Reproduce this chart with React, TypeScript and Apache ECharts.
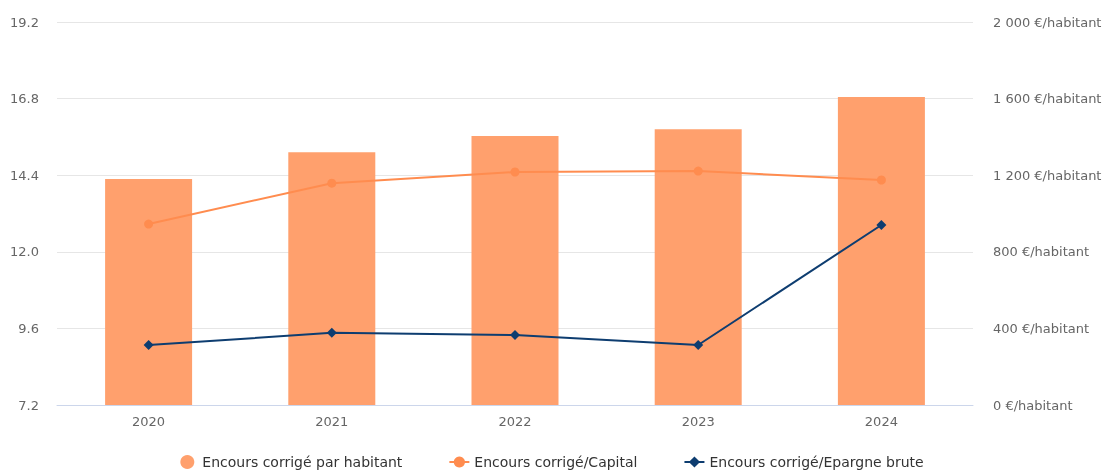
import React, { useEffect, useRef } from "react";
import * as echarts from "echarts";

const years = ["2020", "2021", "2022", "2023", "2024"];
const encoursParHabitant = [1180, 1320, 1405, 1440, 1608];
const encoursCapital = [12.87, 14.15, 14.5, 14.53, 14.25];
const encoursEpargne = [9.08, 9.46, 9.39, 9.08, 12.84];

const seriesNames = [
  "Encours corrigé par habitant",
  "Encours corrigé/Capital",
  "Encours corrigé/Epargne brute",
];

const fmtEuro = (v: number) =>
  String(v).replace(/\B(?=(\d{3})+(?!\d))/g, " ") + " €/habitant";

export default function App() {
  const ref = useRef<HTMLDivElement>(null);
  useEffect(() => {
    if (!ref.current) return;
    const chart = echarts.init(ref.current, null, { renderer: "svg" });
    const font = "DejaVu Sans";
    chart.setOption({
      animation: false,
      textStyle: { fontFamily: font },
      grid: {
        left: 57,
        right: 131,
        top: 22,
        bottom: 65,
        outerBoundsMode: "none",
      },
      legend: {
        bottom: 1,
        left: "center",
        padding: 0,
        itemGap: 46,
        itemWidth: 20,
        itemHeight: 14,
        textStyle: { color: "#333", fontSize: 14, fontFamily: font },
        data: [
          { name: seriesNames[0], icon: "circle" },
          { name: seriesNames[1] },
          { name: seriesNames[2] },
        ],
      },
      xAxis: {
        type: "category",
        data: years,
        axisTick: { show: false },
        axisLine: { lineStyle: { color: "#ccd6eb" } },
        axisLabel: { color: "#666", fontSize: 13, margin: 10, fontFamily: font },
      },
      yAxis: [
        {
          type: "value",
          min: 7.2,
          max: 19.2,
          interval: 2.4,
          position: "left",
          axisLine: { show: false },
          axisTick: { show: false },
          splitLine: { lineStyle: { color: "#e6e6e6" } },
          axisLabel: {
            color: "#666",
            fontSize: 13,
            margin: 18,
            fontFamily: font,
            formatter: (v: number) => v.toFixed(1),
          },
        },
        {
          type: "value",
          min: 0,
          max: 2000,
          interval: 400,
          position: "right",
          axisLine: { show: false },
          axisTick: { show: false },
          splitLine: { show: false },
          axisLabel: {
            color: "#666",
            fontSize: 13,
            margin: 20,
            fontFamily: font,
            formatter: fmtEuro,
          },
        },
      ],
      series: [
        {
          name: seriesNames[0],
          type: "bar",
          yAxisIndex: 1,
          data: encoursParHabitant,
          barWidth: 87,
          itemStyle: { color: "#ffa06d" },
        },
        {
          name: seriesNames[1],
          type: "line",
          yAxisIndex: 0,
          data: encoursCapital,
          symbol: "circle",
          symbolSize: 9,
          lineStyle: { width: 2, color: "#ff8c4f" },
          itemStyle: { color: "#ff8c4f" },
        },
        {
          name: seriesNames[2],
          type: "line",
          yAxisIndex: 0,
          data: encoursEpargne,
          symbol: "diamond",
          symbolSize: 10,
          lineStyle: { width: 2, color: "#0e3d70" },
          itemStyle: { color: "#0e3d70" },
        },
      ],
    });
    return () => chart.dispose();
  }, []);
  return (
    <div
      ref={ref}
      style={{ position: "fixed", left: 0, top: 0, width: 1104, height: 470 }}
    />
  );
}
